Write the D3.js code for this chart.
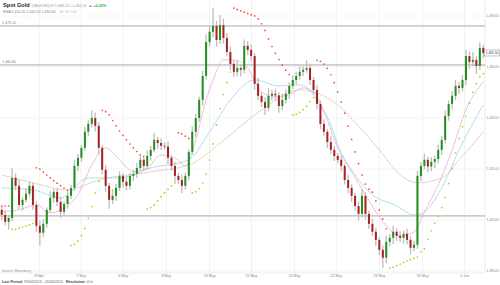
<!DOCTYPE html>
<html>
<head>
<meta charset="utf-8">
<script src="https://cdn.jsdelivr.net/npm/d3@7"></script>
<style>
  body { margin: 0; background: #fff; }
  svg { font-family: "Liberation Sans", Arial, sans-serif; }
</style>
</head>
<body>
<svg id="chart" width="500" height="285"></svg>
<script>
// closing prices, one per candle (open = previous close)
const closes = [
  1402.0, 1399.3, 1400.8, 1416.5, 1413.4, 1405.9, 1407.9, 1410.3, 1413.4, 1405.9,
  1397.7, 1395.0, 1398.5, 1404.0, 1408.7, 1411.0, 1407.1, 1403.2, 1406.3, 1409.5,
  1412.6, 1421.2, 1424.4, 1428.3, 1434.6, 1437.7, 1440.0, 1436.9, 1428.3, 1419.7,
  1413.4, 1407.9, 1409.5, 1412.6, 1417.3, 1415.0, 1413.4, 1417.3, 1418.1, 1420.4,
  1423.6, 1421.2, 1425.1, 1427.5, 1431.4, 1430.2, 1429.1, 1428.8, 1424.4, 1421.2,
  1417.3, 1415.7, 1413.4, 1417.3, 1426.7, 1434.6, 1440.0, 1447.1, 1456.5, 1469.8,
  1473.8, 1476.1, 1470.6, 1476.4, 1471.4, 1465.9, 1461.2, 1458.1, 1459.6, 1458.9,
  1468.3, 1466.7, 1464.3, 1453.4, 1448.7, 1446.3, 1444.0, 1448.7, 1449.5, 1448.9,
  1444.7, 1447.1, 1449.5, 1452.6, 1454.9, 1456.5, 1458.1, 1458.9, 1459.6, 1454.9,
  1451.0, 1445.5, 1437.7, 1434.6, 1430.6, 1427.5, 1425.1, 1423.6, 1421.2, 1415.7,
  1412.6, 1409.5, 1405.5, 1402.4, 1409.5, 1402.4, 1398.5, 1395.4, 1392.2, 1388.3,
  1385.2, 1391.4, 1393.0, 1395.4, 1393.8, 1393.0, 1394.6, 1392.2, 1389.1, 1390.3,
  1417.3, 1421.2, 1423.6, 1421.0, 1422.8, 1423.9, 1427.5, 1431.4, 1440.8, 1445.5,
  1448.7, 1452.6, 1451.8, 1454.9, 1464.3, 1462.0, 1462.8, 1460.4, 1467.5, 1465.5
];
const firstOpen = 1404.0;

// shadow lengths above / below the body
const wickUp = [
  1.5, 2.0, 1.2, 4.0, 1.8, 2.5, 1.0, 2.2, 1.6, 1.2,
  1.4, 2.0, 1.8, 1.0, 2.6, 1.2, 1.5, 2.0, 1.0, 1.8,
  1.2, 2.4, 1.6, 1.0, 2.0, 1.4, 3.0, 2.2, 1.6, 1.0,
  2.0, 1.2, 2.6, 1.5, 1.8, 1.0, 2.4, 1.2, 1.6, 2.0,
  1.4, 1.0, 2.2, 1.6, 2.8, 1.2, 1.8, 1.4, 2.0, 1.0,
  1.6, 1.2, 2.0, 1.4, 1.0, 2.2, 1.6, 1.2, 2.0, 3.0,
  2.4, 7.0, 2.0, 4.0, 2.6, 1.8, 2.2, 1.4, 2.8, 1.6,
  2.5, 1.8, 2.0, 1.2, 2.4, 1.4, 1.8, 3.0, 1.6, 2.0,
  1.2, 2.4, 1.8, 1.4, 2.0, 1.6, 2.2, 1.4, 3.0, 1.8,
  1.2, 2.0, 1.4, 1.8, 1.0, 2.2, 1.6, 1.2, 1.8, 1.0,
  2.0, 1.4, 1.2, 1.8, 2.6, 1.4, 1.2, 2.0, 1.6, 1.0,
  1.8, 2.4, 1.6, 2.2, 1.4, 1.8, 1.2, 2.0, 1.4, 1.6,
  2.0, 1.6, 2.4, 1.2, 1.8, 1.4, 2.0, 1.6, 2.2, 1.4,
  1.8, 2.4, 1.6, 2.0, 2.6, 1.8, 3.0, 1.4, 2.2, 1.2
];
const wickDown = [
  2.0, 1.4, 3.0, 1.2, 1.8, 1.6, 2.2, 1.0, 1.4, 2.0,
  2.4, 5.0, 1.8, 1.4, 1.2, 2.0, 1.6, 2.4, 1.2, 1.8,
  1.4, 1.2, 2.0, 1.6, 1.0, 1.8, 1.4, 2.2, 2.6, 1.8,
  2.4, 3.5, 1.6, 2.0, 1.2, 2.2, 1.8, 1.4, 2.0, 1.6,
  1.2, 2.0, 1.4, 1.8, 1.0, 2.2, 1.6, 1.2, 2.4, 1.8,
  2.2, 1.6, 2.8, 1.4, 1.8, 1.2, 2.0, 1.6, 2.2, 1.4,
  1.8, 2.0, 2.6, 1.6, 2.2, 1.8, 2.4, 2.0, 1.6, 2.6,
  1.4, 2.0, 1.8, 2.4, 1.6, 2.0, 2.8, 1.4, 1.8, 2.2,
  2.6, 1.6, 1.4, 2.0, 1.2, 1.8, 1.4, 1.6, 1.2, 2.0,
  1.8, 2.2, 2.0, 1.6, 2.4, 1.8, 2.0, 1.4, 2.2, 1.8,
  2.0, 2.4, 1.8, 2.6, 1.4, 2.2, 2.0, 1.6, 2.4, 2.0,
  4.0, 2.2, 1.8, 2.4, 2.0, 1.6, 2.2, 1.8, 2.6, 1.4,
  1.6, 2.0, 1.4, 2.2, 1.8, 2.4, 1.6, 2.0, 1.4, 1.8,
  2.2, 1.6, 2.4, 1.4, 2.0, 2.6, 1.8, 3.0, 1.6, 2.0
];

// moving averages (candle index, price)
const maFastIdx = [0, 5, 10, 14, 18, 22, 26, 30, 34, 38, 42, 46, 50, 53, 56, 59, 61, 64, 67, 71, 75, 79, 83, 87, 90, 93, 97, 101, 105, 110, 115, 119, 122, 126, 130, 134, 139];
const maFastVal = [1403.2, 1404.0, 1405.9, 1402.8, 1404.8, 1409.9, 1421.6, 1428.3, 1423.6, 1418.9, 1420.4, 1425.5, 1424.4, 1421.2, 1431.4, 1447.1, 1454.9, 1462.8, 1462.8, 1459.6, 1450.2, 1448.3, 1449.1, 1451.8, 1450.2, 1442.4, 1428.3, 1418.9, 1409.9, 1399.3, 1393.8, 1395.4, 1403.2, 1413.8, 1427.5, 1443.2, 1454.2];
const maMidIdx = [0, 9, 17, 25, 34, 43, 54, 60, 66, 73, 80, 86, 92, 95, 97, 102, 106, 114, 119, 121, 127, 132, 139];
const maMidVal = [1412.6, 1411.8, 1408.7, 1416.5, 1416.5, 1420.4, 1423.6, 1434.6, 1447.1, 1454.9, 1452.6, 1453.0, 1445.1, 1437.3, 1429.5, 1417.7, 1411.0, 1405.5, 1402.0, 1402.4, 1412.6, 1427.5, 1445.1];
const maSlowIdx = [0, 9, 19, 28, 43, 54, 66, 75, 86, 95, 104, 109, 115, 120, 127, 132, 139];
const maSlowVal = [1417.7, 1414.6, 1411.8, 1415.7, 1418.9, 1421.6, 1433.4, 1443.2, 1451.0, 1447.1, 1435.3, 1427.5, 1417.7, 1414.6, 1416.5, 1423.6, 1434.6];

const priceTicks = [1480, 1460, 1440, 1420, 1400, 1380];
const levels = [1476.1, 1460.8, 1401.6];
const levelLabels = ["1,476.10", "1,460.80"];
const dateTickIdx = [10.8, 22.9, 35.1, 47.5, 60, 72.1, 84.5, 96.6, 109, 121.5, 133.6];
const dateTickLabels = ["29 Apr", "1 May", "6 May", "8 May", "13 May", "15 May", "20 May", "22 May", "28 May", "30 May", "4 Jun"];

const plotR = 485, plotB = 273;
const svg = d3.select('#chart');

const x = d3.scaleLinear().domain([-0.5, closes.length - 0.5]).range([0, plotR]);
const y = d3.scaleLinear().domain([1480, 1380]).range([16, 271]);

const candles = closes.map((c, i) => {
  const o = i === 0 ? firstOpen : closes[i - 1];
  return { i: i, o: o, c: c, h: Math.max(o, c) + wickUp[i], l: Math.min(o, c) - wickDown[i] };
});

// parabolic SAR from the candles
function parabolicSar(data, step, maxStep) {
  const out = [];
  let up = data[1].c >= data[0].c;
  let af = step;
  let ep = up ? data[0].h : data[0].l;
  let sar = up ? data[0].l : data[0].h;
  out.push({ i: 0, v: sar, up: up });
  for (let i = 1; i < data.length; i++) {
    sar = sar + af * (ep - sar);
    const p1 = data[i - 1], p2 = data[Math.max(0, i - 2)];
    if (up) {
      sar = Math.min(sar, p1.l, p2.l);
      if (data[i].l < sar) {
        up = false; sar = ep; ep = data[i].l; af = step;
      } else if (data[i].h > ep) {
        ep = data[i].h; af = Math.min(af + step, maxStep);
      }
    } else {
      sar = Math.max(sar, p1.h, p2.h);
      if (data[i].h > sar) {
        up = true; sar = ep; ep = data[i].h; af = step;
      } else if (data[i].l < ep) {
        ep = data[i].l; af = Math.min(af + step, maxStep);
      }
    }
    out.push({ i: i, v: sar, up: up });
  }
  return out;
}
const sar = parabolicSar(candles, 0.02, 0.2);

svg.append('clipPath').attr('id', 'plot')
  .append('rect').attr('x', 0).attr('y', 0).attr('width', plotR).attr('height', plotB);

// grid
const grid = svg.append('g');
grid.selectAll('.vg').data(dateTickIdx).join('line')
  .attr('x1', d => x(d)).attr('x2', d => x(d))
  .attr('y1', 0).attr('y2', plotB)
  .attr('stroke', '#eeeeee').attr('stroke-width', 0.8);
grid.selectAll('.hg').data(priceTicks).join('line')
  .attr('x1', 0).attr('x2', plotR)
  .attr('y1', d => y(d)).attr('y2', d => y(d))
  .attr('stroke', '#f2f2f2').attr('stroke-width', 0.8);
grid.append('line').attr('x1', plotR).attr('x2', plotR).attr('y1', 0).attr('y2', plotB)
  .attr('stroke', '#e4e4e4').attr('stroke-width', 0.8);
grid.append('line').attr('x1', 0).attr('x2', plotR).attr('y1', plotB).attr('y2', plotB)
  .attr('stroke', '#e8e8e8').attr('stroke-width', 0.8);

// reference levels
svg.selectAll('.lvl').data(levels).join('line')
  .attr('x1', 0).attr('x2', plotR)
  .attr('y1', d => y(d)).attr('y2', d => y(d))
  .attr('stroke', '#a8a8a8').attr('stroke-width', 1);
svg.selectAll('.lvlt').data(levelLabels).join('text')
  .attr('x', 2).attr('y', (d, i) => y(levels[i]) - 2)
  .attr('font-size', 3.6).attr('fill', '#888').text(d => d);

const g = svg.append('g').attr('clip-path', 'url(#plot)');

// moving averages
function maLine(idx, vals, color) {
  const line = d3.line().curve(d3.curveMonotoneX)
    .x(d => x(d[0])).y(d => y(d[1]));
  g.append('path').datum(idx.map((d, k) => [d, vals[k]]))
    .attr('d', line).attr('fill', 'none')
    .attr('stroke', color).attr('stroke-width', 0.9).attr('stroke-dasharray', '2,0.6');
}
maLine(maSlowIdx, maSlowVal, '#d9c3a4');
maLine(maMidIdx, maMidVal, '#93cfe0');
maLine(maFastIdx, maFastVal, '#eaa2d0');

// candles
const bw = 2;
g.selectAll('.wick').data(candles).join('line')
  .attr('x1', d => x(d.i)).attr('x2', d => x(d.i))
  .attr('y1', d => y(d.h)).attr('y2', d => y(d.l))
  .attr('stroke', '#bdbdbd').attr('stroke-width', 1.3);
g.selectAll('.body').data(candles).join('rect')
  .attr('x', d => x(d.i) - bw / 2).attr('width', bw)
  .attr('y', d => y(Math.max(d.o, d.c)))
  .attr('height', d => Math.max(0.8, Math.abs(y(d.o) - y(d.c))))
  .attr('fill', d => d.c >= d.o ? '#1f8f1f' : '#a82020');

// SAR dots
g.selectAll('.sar').data(sar).join('circle')
  .attr('cx', d => x(d.i)).attr('cy', d => y(d.v)).attr('r', 0.85)
  .attr('fill', d => d.up ? '#a6d418' : '#f04a3a');

// right axis
svg.selectAll('.pt').data(priceTicks).join('text')
  .attr('x', 486.5).attr('y', d => y(d) + 1.2)
  .attr('font-size', 3.2).attr('fill', '#888')
  .text(d => d3.format(',.2f')(d));

// last price box
const last = closes[closes.length - 1];
svg.append('rect').attr('x', 484.5).attr('y', y(last) - 3).attr('width', 15).attr('height', 6)
  .attr('fill', '#fff').attr('stroke', '#999').attr('stroke-width', 0.6);
svg.append('text').attr('x', 485.8).attr('y', y(last) + 1.2)
  .attr('font-size', 3.2).attr('fill', '#333').text(d3.format(',.2f')(last));

// bottom axis
svg.selectAll('.dt').data(dateTickIdx).join('text')
  .attr('x', (d) => x(d)).attr('y', 277).attr('text-anchor', 'middle')
  .attr('font-size', 3.6).attr('fill', '#888')
  .text((d, i) => dateTickLabels[i]);

// header
const head = svg.append('text').attr('x', 3).attr('y', 6.5).attr('font-size', 5.6);
head.append('tspan').attr('font-weight', 'bold').attr('fill', '#222').text('Spot Gold');
head.append('tspan').attr('dx', 2).attr('font-size', 3.6).attr('fill', '#999').text('(XAU/USD)   H 1,468.20  L 1,462.10');
head.append('tspan').attr('dx', 2).attr('font-size', 3.8).attr('fill', '#27b327').attr('font-weight', 'bold').text('▲ +0.22%');

const sub = svg.append('text').attr('x', 3).attr('y', 13).attr('font-size', 3.6).attr('fill', '#888');
sub.append('tspan').text('EMA 1,454.20  1,445.10  1,434.60');
sub.append('tspan').attr('dx', 4).attr('fill', '#e58fc4').text('20');
sub.append('tspan').attr('dx', 1.5).attr('fill', '#7fc3d8').text('50');
sub.append('tspan').attr('dx', 1.5).attr('fill', '#cdb38f').text('100');

svg.append('text').attr('x', 2).attr('y', 272).attr('font-size', 3.4).attr('fill', '#999').text('Source: Bloomberg');

const foot = svg.append('text').attr('x', 2).attr('y', 283).attr('font-size', 3.6).attr('fill', '#666');
foot.append('tspan').attr('font-weight', 'bold').attr('fill', '#444').text('Last Period:');
foot.append('tspan').attr('dx', 1).text('29/04/2013 - 05/06/2013');
foot.append('tspan').attr('dx', 3).attr('font-weight', 'bold').attr('fill', '#444').text('Resolution:');
foot.append('tspan').attr('dx', 1).text('4 hr');
</script>
</body>
</html>
